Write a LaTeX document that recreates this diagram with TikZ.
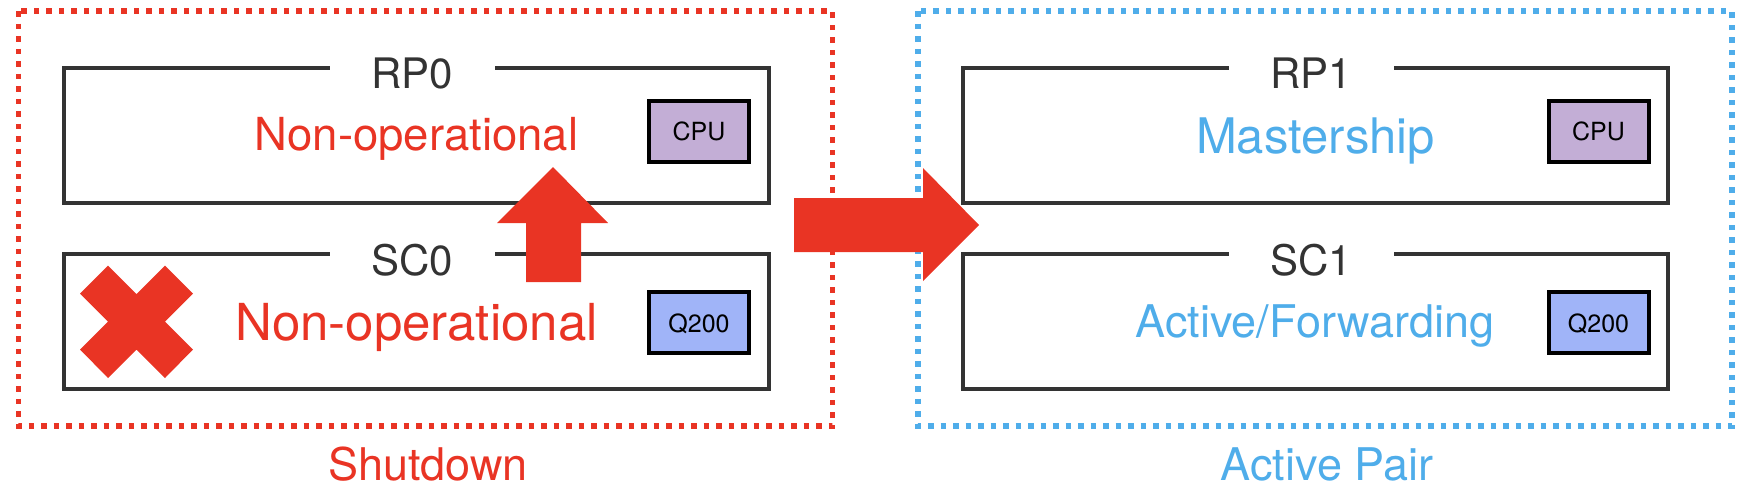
\documentclass[tikz,border=0pt]{standalone}
\usepackage{fontspec}
\setmainfont{TeX Gyre Heros}
\definecolor{cred}{HTML}{E93424}
\definecolor{cblue}{HTML}{4FADEA}
\definecolor{cline}{HTML}{333333}
\definecolor{cpufill}{HTML}{C3AED6}
\definecolor{qfill}{HTML}{A0B4F8}
\tikzset{
  grpbox/.style={line width=5.5pt, dash pattern=on 5.5pt off 7pt},
  pbox/.style={draw=cline, line width=3.5pt, minimum width=705pt, minimum height=135pt, inner sep=0pt},
  ptitle/.style={fill=white, anchor=base, minimum width=165pt, inner sep=2pt, text=cline, font=\fontsize{42}{50}\selectfont},
  chip/.style={draw=black, line width=4pt, minimum width=100pt, minimum height=61pt, inner sep=0pt},
  chiptext/.style={anchor=base, inner sep=0pt, font=\fontsize{25}{30}\selectfont},
  stat/.style={anchor=base, inner sep=0pt},
  glabel/.style={anchor=base, inner sep=0pt, font=\fontsize{45}{54}\selectfont},
}
\begin{document}
\begin{tikzpicture}[x=1pt,y=-1pt]
\useasboundingbox (0,0) rectangle (1754,496);
% group boxes
\draw[grpbox, draw=cred] (18.5,11) rectangle (832.5,426);
\draw[grpbox, draw=cblue] (918,11) rectangle (1732,426);
% left side
\node[pbox] (rp0) at (416.5,135.5) {};
\node[pbox] (sc0) at (416.5,321.5) {};
\node[ptitle] (rp0t) at (412.5,88) {RP0};
\node[ptitle] (sc0t) at (412.5,275) {SC0};
\node[stat, text=cred, font=\fontsize{45.5}{54}\selectfont] (rp0s) at (416.5,150) {Non-operational};
\node[stat, text=cred, font=\fontsize{51}{60}\selectfont] (sc0s) at (416.5,340) {Non-operational};
\node[chip, fill=cpufill] (cpu0) at (699,131) {};
\node[chiptext] at (699,140) {CPU};
\node[chip, fill=qfill] (q0) at (699,322.5) {};
\node[chiptext] at (699,332) {Q200};
% right side
\node[pbox] (rp1) at (1315.5,135.5) {};
\node[pbox] (sc1) at (1315.5,321.5) {};
\node[ptitle] (rp1t) at (1311,88) {RP1};
\node[ptitle] (sc1t) at (1311,275) {SC1};
\node[stat, text=cblue, font=\fontsize{49}{58}\selectfont] (rp1s) at (1315.5,153) {Mastership};
\node[stat, text=cblue, font=\fontsize{45}{54}\selectfont] (sc1s) at (1315,337) {Active/Forwarding};
\node[chip, fill=cpufill] (cpu1) at (1598.5,131) {};
\node[chiptext] at (1598.5,140) {CPU};
\node[chip, fill=qfill] (q1) at (1598.5,322.5) {};
\node[chiptext] at (1598.5,332) {Q200};
% group labels
\node[glabel, text=cred] (lshut) at (428,480) {Shutdown};
\node[glabel, text=cblue] (lact) at (1327,480) {Active Pair};
% up arrow
\fill[cred] (526,282) -- (526,223) -- (497,223) -- (553,167) -- (608,223) -- (581,223) -- (581,282) -- cycle;
% right arrow
\fill[cred] (794,198) -- (923,198) -- (923,168) -- (979,225) -- (923,281) -- (923,252) -- (794,252) -- cycle;
% X mark
\fill[cred] (136.5,322) ++(-28.5,-56.5) -- ++(28.5,28.5) -- ++(28.5,-28.5) -- ++(28,28) -- ++(-28,28) -- ++(28,28) -- ++(-28,28.5) -- ++(-28.5,-28.5) -- ++(-28.5,28.5) -- ++(-28,-28.5) -- ++(28,-28) -- ++(-28,-28) -- cycle;
\end{tikzpicture}
\end{document}
